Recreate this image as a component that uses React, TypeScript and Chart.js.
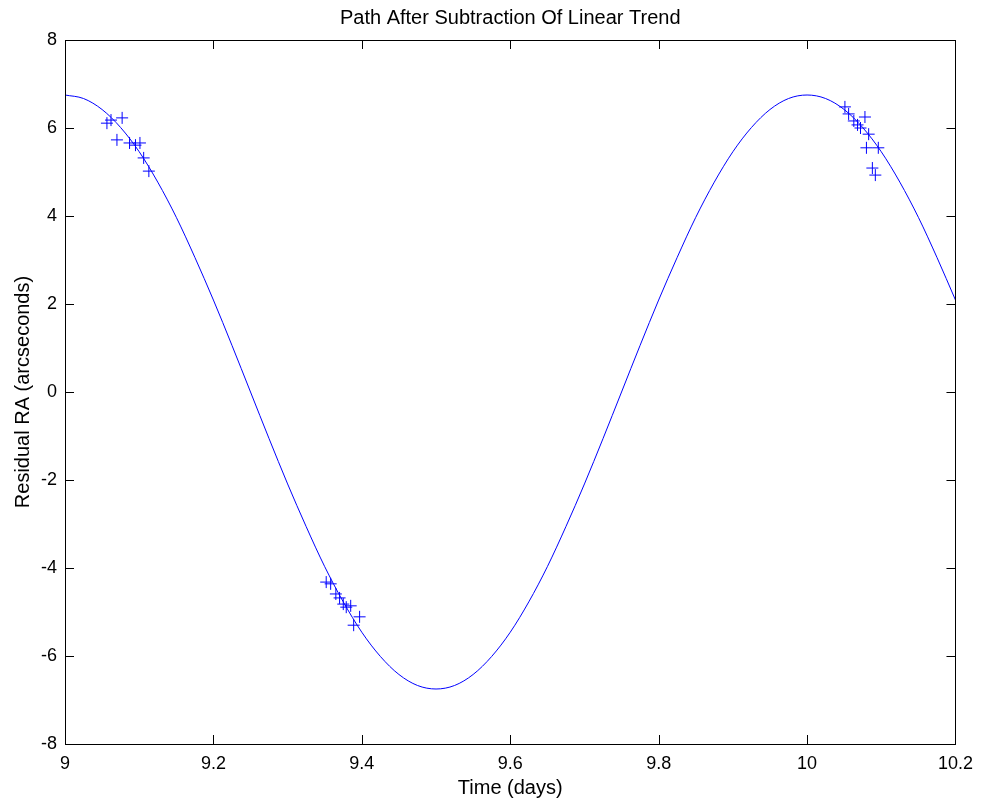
import React, { useEffect, useRef } from "react";
import { Chart, registerables } from "chart.js";
Chart.register(...registerables);

const TITLE = "Path After Subtraction Of Linear Trend";
const X_LABEL = "Time (days)";
const Y_LABEL = "Residual RA (arcseconds)";

const X_TICKS = [9, 9.2, 9.4, 9.6, 9.8, 10, 10.2];
const Y_TICKS = [-8, -6, -4, -2, 0, 2, 4, 6, 8];

// fitted path
const curveX = [
  9.0, 9.025, 9.05, 9.075, 9.1, 9.125, 9.15, 9.175, 9.2, 9.225, 9.25, 9.275, 9.3, 9.325, 9.35, 9.375, 9.4,
  9.425, 9.45, 9.475, 9.5, 9.525, 9.55, 9.575, 9.6, 9.625, 9.65, 9.675, 9.7, 9.725, 9.75, 9.775, 9.8,
  9.825, 9.85, 9.875, 9.9, 9.925, 9.95, 9.975, 10.0, 10.025, 10.05, 10.075, 10.1, 10.125, 10.15, 10.175, 10.2,
];
const curveY = [
  6.75, 6.67, 6.42, 6.01, 5.46, 4.77, 3.97, 3.06, 2.09, 1.06, 0.0, -1.06, -2.09, -3.06, -3.97, -4.77, -5.46,
  -6.01, -6.42, -6.67, -6.75, -6.67, -6.42, -6.01, -5.46, -4.77, -3.97, -3.06, -2.09, -1.06, 0.0, 1.06, 2.09,
  3.06, 3.97, 4.77, 5.46, 6.01, 6.42, 6.67, 6.75, 6.67, 6.42, 6.01, 5.46, 4.77, 3.97, 3.06, 2.09,
];

// observations
const obsX = [
  9.0565, 9.062, 9.077, 9.07, 9.087, 9.095, 9.101, 9.106, 9.113,
  9.352, 9.358, 9.365, 9.37, 9.375, 9.379, 9.385, 9.397, 9.389,
  10.051, 10.056, 10.063, 10.068, 10.072, 10.078, 10.083, 10.096, 10.08, 10.088, 10.092,
];
const obsY = [
  6.11, 6.18, 6.23, 5.73, 5.66, 5.61, 5.66, 5.32, 5.02,
  -4.32, -4.36, -4.59, -4.68, -4.82, -4.89, -4.86, -5.11, -5.3,
  6.48, 6.32, 6.16, 6.07, 6.0, 6.25, 5.86, 5.55, 5.55, 5.09, 4.93,
];

const FONT = "'Liberation Sans', Arial, sans-serif";

export default function App() {
  const ref = useRef<HTMLCanvasElement | null>(null);
  useEffect(() => {
    const canvas = ref.current!;
    const framePlugin = {
      id: "frame",
      afterDatasetsDraw(chart: any) {
        const { ctx, chartArea: a, scales } = chart;
        ctx.save();
        ctx.strokeStyle = "#000";
        ctx.lineWidth = 1;
        ctx.strokeRect(Math.round(a.left) + 0.5, Math.round(a.top) + 0.5, Math.round(a.right - a.left), Math.round(a.bottom - a.top));
        const tl = 9;
        ctx.beginPath();
        for (const v of X_TICKS) {
          const x = Math.round(scales.x.getPixelForValue(v)) + 0.5;
          ctx.moveTo(x, a.bottom);
          ctx.lineTo(x, a.bottom - tl);
          ctx.moveTo(x, a.top);
          ctx.lineTo(x, a.top + tl);
        }
        for (const v of Y_TICKS) {
          const y = Math.round(scales.y.getPixelForValue(v)) + 0.5;
          ctx.moveTo(a.left, y);
          ctx.lineTo(a.left + tl, y);
          ctx.moveTo(a.right, y);
          ctx.lineTo(a.right - tl, y);
        }
        ctx.stroke();
        ctx.fillStyle = "#000";
        ctx.font = `20px ${FONT}`;
        ctx.textAlign = "center";
        ctx.textBaseline = "middle";
        ctx.fillText(TITLE, (a.left + a.right) / 2, 18);
        ctx.restore();
      },
    };
    const chart = new Chart(canvas, {
      type: "scatter",
      data: {
        datasets: [
          {
            type: "line",
            data: curveX.map((x, i) => ({ x, y: curveY[i] })),
            borderColor: "#0000ff",
            borderWidth: 1,
            pointRadius: 0,
            tension: 0.4,
            cubicInterpolationMode: "monotone",
            fill: false,
          } as any,
          {
            type: "scatter",
            data: obsX.map((x, i) => ({ x, y: obsY[i] })),
            pointStyle: "cross",
            pointRadius: 6,
            borderColor: "#0000ff",
            backgroundColor: "#0000ff",
            borderWidth: 1,
          },
        ],
      },
      options: {
        animation: false,
        responsive: false,
        layout: { padding: { top: 40, right: 25, left: 0, bottom: 0 } },
        plugins: { legend: { display: false }, tooltip: { enabled: false }, title: { display: false } },
        scales: {
          x: {
            type: "linear",
            min: 9,
            max: 10.2,
            afterFit(s: any) { s.height = 59; },
            afterBuildTicks(s: any) { s.ticks = X_TICKS.map((v) => ({ value: v })); },
            grid: { display: false, drawTicks: false },
            border: { display: false },
            ticks: {
              padding: 9,
              color: "#000",
              font: { family: FONT, size: 18 },
              callback: (v: any) => String(Number(Number(v).toFixed(1))),
            },
            title: { display: true, text: X_LABEL, color: "#000", font: { family: FONT, size: 20 }, padding: { top: 0, bottom: 3 } },
          },
          y: {
            type: "linear",
            min: -8,
            max: 8,
            afterFit(s: any) { s.width = 65; },
            afterBuildTicks(s: any) { s.ticks = Y_TICKS.map((v) => ({ value: v })); },
            grid: { display: false, drawTicks: false },
            border: { display: false },
            ticks: { padding: 8, color: "#000", font: { family: FONT, size: 18 } },
            title: { display: true, text: Y_LABEL, color: "#000", font: { family: FONT, size: 20 }, padding: { top: 11, bottom: 0 } },
          },
        },
      },
      plugins: [framePlugin],
    } as any);
    return () => chart.destroy();
  }, []);
  return (
    <div style={{ position: "fixed", left: 0, top: 0, width: 982, height: 803, background: "#fff" }}>
      <canvas ref={ref} width={982} height={803} style={{ width: 982, height: 803 }} />
    </div>
  );
}
